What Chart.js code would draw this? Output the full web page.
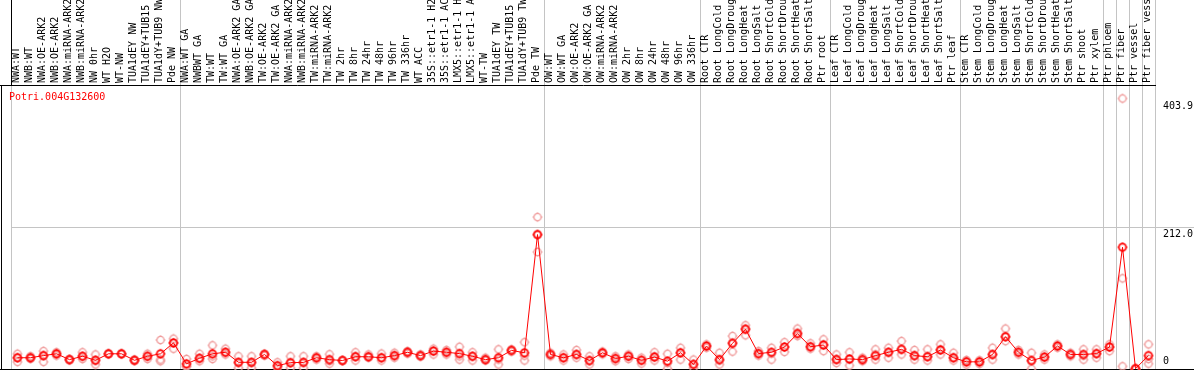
<!DOCTYPE html>
<html>

<head>
    <meta charset="utf-8">
    <title>Potri.004G132600</title>
    <style>
        body {
            margin: 0;
            background-color: #fff;
        }

        canvas {
            display: block;
        }
    </style>
</head>

<body>
    <canvas id="exprChart" width="1194" height="370"></canvas>

    <script src="https://cdn.jsdelivr.net/npm/chart.js"></script>

    <script>
        const geneId = 'Potri.004G132600';

        const samples = [
            'NWA:WT', 'NWB:WT', 'NWA:OE-ARK2', 'NWB:OE-ARK2', 'NWA:miRNA-ARK2', 'NWB:miRNA-ARK2',
            'NW 0hr', 'WT H2O', 'WT-NW', 'TUA1dEY NW', 'TUA1dEY+TUB15 NW', 'TUA1dY+TUB9 NW', 'Pde NW',
            'NWA:WT GA', 'NWBWT GA', 'TW:WT', 'TW:WT GA', 'NWA:OE-ARK2 GA', 'NWB:OE-ARK2 GA',
            'TW:OE-ARK2', 'TW:OE-ARK2 GA', 'NWA:miRNA-ARK2 GA', 'NWB:miRNA-ARK2 GA', 'TW:miRNA-ARK2',
            'TW:miRNA-ARK2 GA', 'TW 2hr', 'TW 8hr', 'TW 24hr', 'TW 48hr', 'TW 96hr', 'TW 336hr',
            'WT ACC', '35S::etr1-1 H2O', '35S::etr1-1 ACC', 'LMX5::etr1-1 H2O', 'LMX5::etr1-1 ACC',
            'WT-TW', 'TUA1dEY TW', 'TUA1dEY+TUB15 TW', 'TUA1dY+TUB9 TW', 'Pde TW',
            'OW:WT', 'OW:WT GA', 'OW:OE-ARK2', 'OW:OE-ARK2 GA', 'OW:miRNA-ARK2', 'OW:miRNA-ARK2 GA',
            'OW 2hr', 'OW 8hr', 'OW 24hr', 'OW 48hr', 'OW 96hr', 'OW 336hr',
            'Root CTR', 'Root LongCold', 'Root LongDrought', 'Root LongHeat', 'Root LongSalt',
            'Root ShortCold', 'Root ShortDrought', 'Root ShortHeat', 'Root ShortSalt', 'Ptr root',
            'Leaf CTR', 'Leaf LongCold', 'Leaf LongDrought', 'Leaf LongHeat', 'Leaf LongSalt',
            'Leaf ShortCold', 'Leaf ShortDrought', 'Leaf ShortHeat', 'Leaf ShortSalt', 'Ptr leaf',
            'Stem CTR', 'Stem LongCold', 'Stem LongDrought', 'Stem LongHeat', 'Stem LongSalt',
            'Stem ShortCold', 'Stem ShortDrought', 'Stem ShortHeat', 'Stem ShortSalt', 'Ptr shoot',
            'Ptr xylem', 'Ptr phloem', 'Ptr fiber', 'Ptr vessel', 'Ptr fiber vessel'
        ];

        // sample groups start at these positions (grey separators)
        const groupBreaks = [0, 13, 41, 53, 63, 73, 84, 85, 86, 87, 88];

        // mean expression (red line)
        const meanValues = [
            16.8, 16.8, 20, 22.7, 14, 19, 13, 22.7, 22.7, 13, 19, 22.7, 39,
            7.7, 16, 22.7, 25, 10, 10, 21.7, 5, 9.5, 9.8, 16.8, 14, 12.7, 18.3, 18.3, 16.8, 20, 25,
            20, 26.7, 25, 23, 19, 14, 16.8, 27.8, 24.2, 200.7,
            21.7, 16.8, 21.7, 12.7, 24.2, 15.7, 19, 13, 17.8, 11.7, 24.2, 6.8,
            34.3, 14, 38.3, 59.3, 23, 25, 32.8, 52.8, 33.3, 35.8,
            14, 15, 14, 20, 25, 29.3, 20, 18.3, 28.3, 16.8,
            10.7, 10.7, 21.7, 48.2, 25, 12.7, 17.8, 34.3, 21.7, 21.7,
            23, 32.8, 181.8, 0.5, 20
        ];

        // replicates (pink circles)
        const rep1 = [
            22.7, 19, 26.7, 25, 15, 25, 21.7, 23, 23, 14, 22.7, 43.3, 45.3,
            15, 22.7, 35.3, 30.3, 19, 19, 22.7, 10, 19, 19, 19, 22, 13, 25, 21.7, 23, 24.2, 26.7,
            21.7, 30.3, 28.3, 33.2, 25, 16.8, 29.3, 29.3, 40, 226.8,
            24.2, 21.7, 28.3, 19, 26, 19, 21.7, 16.8, 25, 22.7, 31.7, 14,
            36.8, 24.2, 49.2, 65.3, 26.7, 31.7, 40, 60.3, 38.3, 44.3,
            21.7, 25, 16.8, 29.3, 31.7, 41.7, 28.3, 29.3, 36.8, 24.2,
            13.5, 13, 31.7, 60.3, 28.3, 24.2, 21.7, 36.8, 24.2, 29.3,
            29.3, 36.8, 403.9, 1, 36.8
        ];
        const rep2 = [
            16.8, 16.8, 20, 22.7, 14, 19, 13, 22.7, 22.7, 13, 19, 14, 39,
            4, 15.7, 19, 25, 9, 9, 21.7, 4.2, 9, 9.8, 16.8, 12, 13, 19, 18.3, 16.8, 20, 25,
            20, 26.7, 25, 19, 19, 14, 14, 27.8, 20, 200.7,
            21.7, 16.8, 21.7, 11.7, 24, 15, 19, 13, 19, 9, 24.2, 7.7,
            34.3, 12.7, 39.3, 60.3, 23, 23, 33, 54.2, 33.3, 36.8,
            15, 14, 14, 21.7, 25, 29.3, 20, 19, 29.3, 16.8,
            11.7, 10.7, 21.7, 48.2, 25, 11.7, 17.8, 34.3, 21.7, 20,
            23, 32.8, 135.3, 0.5, 15
        ];
        const rep3 = [
            10.7, 15, 10.7, 20, 13, 15, 6.8, 22, 22, 12, 15, 11.7, 30.3,
            4, 11.7, 15, 21.7, 1.7, 1.7, 20, 1.7, 1.7, 1.7, 14, 8, 12, 12.7, 16.8, 12.7, 16.8, 23,
            18.3, 21.7, 21.7, 14, 12.7, 12.7, 6.8, 26, 12.7, 174.7,
            19, 12.7, 16.8, 6.8, 22, 11.7, 15, 8.2, 12.7, 0.3, 14, 1.7,
            31.7, 6.8, 26, 50.3, 20, 14, 25.5, 49.2, 30.3, 26.7,
            9, 5.3, 11.7, 14, 16.8, 21.7, 14, 12.7, 21.7, 12.7,
            6.8, 7.7, 14, 41.7, 21.7, 0.3, 14, 31.7, 19, 14,
            16.8, 26.7, 4, 0, 8
        ];

        const yTicks = [0, 212.0, 403.9];
        const yMax = 424;

        const monoFont = "'DejaVu Sans Mono', monospace";

        // circle marker with four small notches
        function makeMarker(color, lw) {
            const c = document.createElement('canvas');
            c.width = 12;
            c.height = 12;
            const g = c.getContext('2d');
            g.strokeStyle = color;
            g.lineWidth = lw;
            g.beginPath();
            g.arc(6, 6, 3.6, 0, Math.PI * 2);
            g.stroke();
            g.fillStyle = color;
            g.fillRect(5.5, 1, 1, 1);
            g.fillRect(5.5, 10, 1, 1);
            g.fillRect(1, 5.5, 1, 1);
            g.fillRect(10, 5.5, 1, 1);
            return c;
        }

        const redMarker = makeMarker('#ff0000', 1.7);
        const pinkMarker = makeMarker('#f09c9c', 1.3);

        function repDataset(data, order) {
            return {
                data: data,
                showLine: false,
                pointStyle: pinkMarker,
                pointRadius: 5,
                order: order,
                clip: false
            };
        }

        const framePlugin = {
            id: 'frame',
            afterDraw(chart) {
                const { ctx, chartArea: a } = chart;
                ctx.save();
                ctx.strokeStyle = '#000';
                ctx.lineWidth = 1;
                ctx.beginPath();
                ctx.moveTo(0, a.top + 0.5); ctx.lineTo(a.left, a.top + 0.5);
                ctx.moveTo(1.5, a.top); ctx.lineTo(1.5, a.bottom);
                ctx.moveTo(0, a.bottom + 0.5); ctx.lineTo(a.left, a.bottom + 0.5);
                ctx.stroke();
                ctx.fillStyle = '#ff0000';
                ctx.font = '10px ' + monoFont;
                ctx.textBaseline = 'middle';
                ctx.fillText(geneId, 9, a.top + 12);
                ctx.restore();
            }
        };

        const grey = '#c4c4c4';
        const clear = 'rgba(0,0,0,0)';

        new Chart(document.getElementById('exprChart'), {
            type: 'line',
            data: {
                labels: samples,
                datasets: [
                    {
                        data: meanValues,
                        borderColor: '#ff0000',
                        borderWidth: 1,
                        pointStyle: redMarker,
                        pointRadius: 5,
                        tension: 0,
                        order: 0,
                        clip: false
                    },
                    repDataset(rep1, 1),
                    repDataset(rep2, 2),
                    repDataset(rep3, 3)
                ]
            },
            options: {
                responsive: false,
                animation: false,
                layout: {
                    autoPadding: false,
                    padding: { left: 11, right: 0, top: 0, bottom: 1 }
                },
                plugins: {
                    legend: { display: false },
                    tooltip: { enabled: false }
                },
                scales: {
                    x: {
                        position: 'top',
                        offset: true,
                        grid: {
                            offset: true,
                            tickLength: 85,
                            color: c => (c.type === 'scale' || groupBreaks.includes(c.index)) ? grey : clear,
                            tickColor: c => c.index === 0 ? '#000' :
                                ((c.type === 'scale' || groupBreaks.includes(c.index)) ? grey : clear)
                        },
                        border: { display: true, color: '#000' },
                        ticks: {
                            autoSkip: false,
                            minRotation: 90,
                            maxRotation: 90,
                            padding: -83,
                            labelOffset: 11,
                            color: '#000',
                            font: { family: monoFont, size: 10 }
                        },
                        afterFit: s => {
                            s.height = 85;
                            s.paddingLeft = 0;
                            s.paddingRight = 0;
                        }
                    },
                    y: {
                        position: 'right',
                        min: 0,
                        max: yMax,
                        afterBuildTicks: s => {
                            s.ticks = yTicks.map(v => ({ value: v }));
                        },
                        grid: {
                            tickLength: 39,
                            color: c => {
                                if (!c.tick) return clear;
                                if (c.tick.value === 0) return '#000';
                                if (c.tick.value === 212) return grey;
                                return clear;
                            }
                        },
                        border: { display: false },
                        ticks: {
                            padding: -31,
                            crossAlign: 'near',
                            color: '#000',
                            font: { family: monoFont, size: 10, lineHeight: 1.5 },
                            callback: v => v === 0 ? ['0', ''] : ['', v.toFixed(1)]
                        },
                        afterFit: s => {
                            s.width = 39;
                            s.paddingTop = 0;
                            s.paddingBottom = 0;
                        }
                    }
                }
            },
            plugins: [framePlugin]
        });
    </script>
</body>

</html>
